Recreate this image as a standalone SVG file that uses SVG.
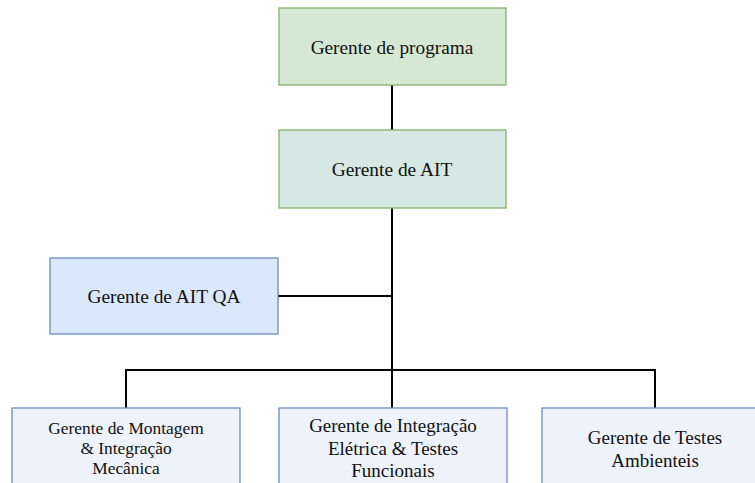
<svg xmlns="http://www.w3.org/2000/svg" width="755" height="483" viewBox="0 0 755 483">
<style>
text{font-family:"Liberation Serif","Times New Roman",serif;fill:#111;text-anchor:middle}
.g{fill:#d5e8d4;stroke:#82b366;stroke-width:1.3}
.t{fill:#d5e8e4;stroke:#82b366;stroke-width:1.3}
.b{fill:#dae8fc;stroke:#6c8ebf;stroke-width:1.3}
.l{fill:#eef2fb;stroke:#6c8ebf;stroke-width:1.3}
.c{fill:none;stroke:#000;stroke-width:2}
</style>
<rect width="755" height="483" fill="#fff"/>
<g id="connectors">
<path class="c" d="M392 85V130"/>
<path class="c" d="M392 208V370"/>
<path class="c" d="M278 296H392"/>
<path class="c" d="M126 408V370H655V408"/>
<path class="c" d="M392 370V408"/>
</g>
<g id="n1"><rect class="g" x="279" y="8" width="227" height="77"/><text x="392" y="53.5" font-size="19.3">Gerente de programa</text></g>
<g id="n2"><rect class="t" x="279" y="130" width="227" height="78"/><text x="392" y="175.5" font-size="19.4">Gerente de AIT</text></g>
<g id="n3"><rect class="b" x="50" y="258" width="228" height="76"/><text x="164" y="303" font-size="19.4">Gerente de AIT QA</text></g>
<g id="n4"><rect class="l" x="12" y="408" width="228" height="90"/><text font-size="17.4"><tspan x="126" y="433.5">Gerente de Montagem</tspan><tspan x="126" y="453.5">&amp; Integração</tspan><tspan x="126" y="473.5">Mecânica</tspan></text></g>
<g id="n5"><rect class="l" x="279" y="408" width="228" height="90"/><text font-size="19"><tspan x="393" y="432">Gerente de Integração</tspan><tspan x="393" y="454.5">Elétrica &amp; Testes</tspan><tspan x="393" y="477">Funcionais</tspan></text></g>
<g id="n6"><rect class="l" x="542" y="408" width="228" height="90"/><text font-size="19"><tspan x="655" y="444">Gerente de Testes</tspan><tspan x="655" y="467">Ambienteis</tspan></text></g>
</svg>
